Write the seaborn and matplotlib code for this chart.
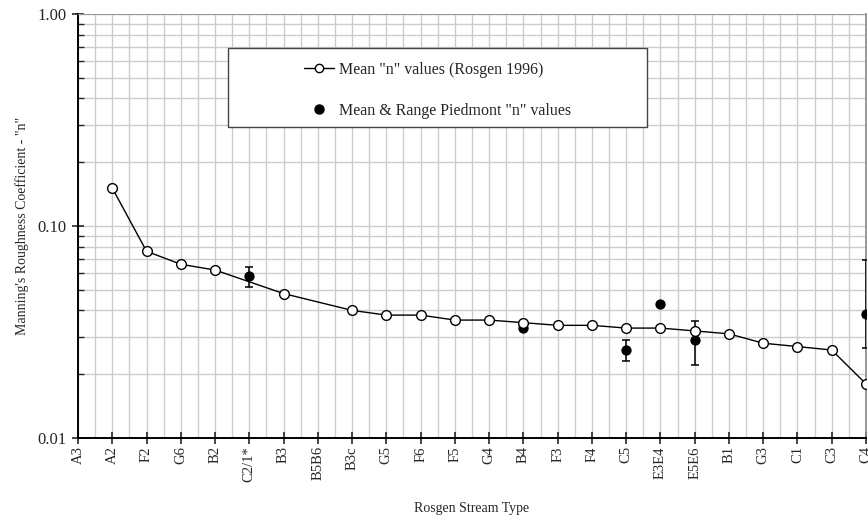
import numpy as np
import pandas as pd
import matplotlib
matplotlib.use("Agg")
import matplotlib.pyplot as plt
import matplotlib.ticker as mticker
from matplotlib.lines import Line2D
from matplotlib.patches import Rectangle
import seaborn as sns

# === Data ===
stream_types = ["A3", "A2", "F2", "G6", "B2", "C2/1*", "B3", "B5B6", "B3c", "G5", "F6", "F5",
                "G4", "B4", "F3", "F4", "C5", "E3E4", "E5E6", "B1", "G3", "C1", "C3", "C4"]

# Rosgen (1996) mean n values (nan = no value)
rosgen_mean = [np.nan, 0.151, 0.076, 0.066, 0.062, np.nan, 0.048, np.nan, 0.040, 0.038, 0.038, 0.036,
               0.036, 0.035, 0.034, 0.034, 0.033, 0.033, 0.032, 0.031, 0.028, 0.027, 0.026, 0.018]

# Piedmont mean and range
piedmont_types = ["C2/1*", "B4", "C5", "E3E4", "E5E6", "C4"]
piedmont_mean = [0.058, 0.033, 0.026, 0.043, 0.029, 0.0385]
piedmont_low = [0.0517, 0.033, 0.0231, 0.043, 0.0221, 0.0267]
piedmont_high = [0.0639, 0.033, 0.0290, 0.043, 0.0357, 0.069]

# === Tables ===
pos = {t: i for i, t in enumerate(stream_types)}
ros = pd.DataFrame({"x": range(len(stream_types)), "n": rosgen_mean}).dropna()
pie = pd.DataFrame({"x": [pos[t] for t in piedmont_types], "n": piedmont_mean,
                    "lo": piedmont_low, "hi": piedmont_high})

# === Style ===
sns.set_style("white")
plt.rcParams["font.family"] = ["Liberation Serif", "DejaVu Serif"]

fig = plt.figure(figsize=(8.68, 5.2), dpi=100)
ax = fig.add_axes([0.0899, 0.1577, 0.9078, 0.8153])

# === Plot ===
ax.errorbar(pie["x"], pie["n"], yerr=[pie["n"] - pie["lo"], pie["hi"] - pie["n"]],
            fmt="none", ecolor="black", elinewidth=1.1, capsize=2.7, capthick=1.1, zorder=3)

sns.scatterplot(data=pie, x="x", y="n", ax=ax, color="black", s=55, edgecolor="black",
                linewidth=0, zorder=4)

sns.lineplot(data=ros, x="x", y="n", ax=ax, color="black", linewidth=1.0, marker="o",
             markersize=7, markerfacecolor="white", markeredgecolor="black",
             markeredgewidth=1.0, zorder=5)

ax.set_yscale("log")
ax.set_ylim(0.01, 1.0)
ax.set_xlim(0, len(stream_types) - 1)

ax.set_xticks(range(len(stream_types)))
ax.set_xticklabels(stream_types, rotation=90, fontsize=10.5)
ax.xaxis.set_minor_locator(mticker.MultipleLocator(0.5))

ax.yaxis.set_major_locator(mticker.FixedLocator([0.01, 0.1, 1.0]))
ax.yaxis.set_major_formatter(mticker.FormatStrFormatter("%.2f"))
ax.yaxis.set_minor_locator(mticker.LogLocator(base=10, subs=np.arange(2, 10)))
ax.yaxis.set_minor_formatter(mticker.NullFormatter())

ax.grid(True, which="both", color="#cccccc", linewidth=1.0, zorder=0)
ax.set_axisbelow(True)

ax.tick_params(axis="y", which="major", direction="inout", length=9, width=1.2, labelsize=12, left=True)
ax.tick_params(axis="y", which="minor", direction="in", length=4, width=1.0, left=True)
ax.tick_params(axis="x", which="major", direction="inout", length=8, width=1.2, bottom=True, pad=2)
ax.tick_params(axis="x", which="minor", length=0)

for side in ["left", "bottom"]:
    ax.spines[side].set_color("black")
    ax.spines[side].set_linewidth(1.4)
ax.spines["top"].set_color("#999999")
ax.spines["right"].set_color("#888888")
ax.spines["right"].set_linewidth(1.2)

ax.set_xlabel("Rosgen Stream Type", fontsize=10, labelpad=14)
ax.set_ylabel("Manning's Roughness Coefficient - \"n\"", fontsize=10, labelpad=6)

# === Legend box ===
box = Rectangle((0.1904, 0.734), 0.5317, 0.187, transform=ax.transAxes, facecolor="white",
                edgecolor="#444444", linewidth=1.0, zorder=6)
ax.add_patch(box)
handles = [
    Line2D([], [], color="black", linewidth=1.0, marker="o", markersize=6,
           markerfacecolor="white", markeredgecolor="black"),
    Line2D([], [], color="black", linestyle="none", marker="o", markersize=6.5),
]
leg = ax.legend(handles, ['Mean "n" values (Rosgen 1996)', 'Mean & Range Piedmont "n" values'],
                loc="upper left", bbox_to_anchor=(0.2868, 0.888), frameon=False, fontsize=11.5,
                handlelength=1.87, handletextpad=0.3, labelspacing=1.6, borderpad=0, borderaxespad=0)
leg.set_zorder(7)

fig.savefig("out.png", dpi=100)
plt.close(fig)
